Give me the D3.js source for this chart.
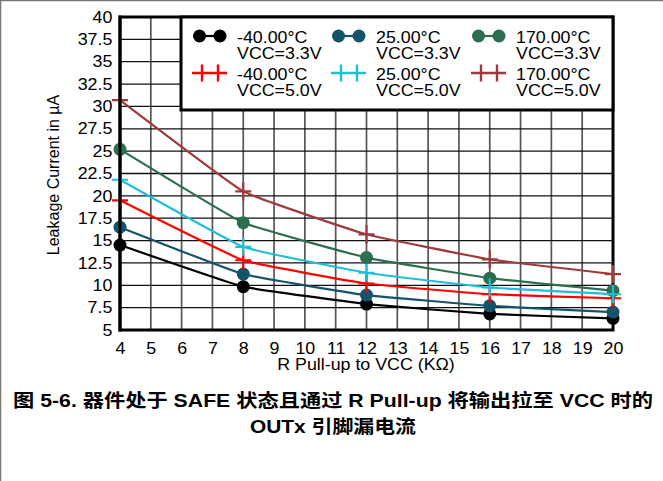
<!DOCTYPE html>
<html><head><meta charset="utf-8">
<script src="https://cdn.jsdelivr.net/npm/d3@7/dist/d3.min.js"></script>
<style>
html,body{margin:0;padding:0;background:#fff;}
svg{display:block;font-family:"Liberation Sans",Arial,sans-serif;}
</style></head>
<body><svg id="c" width="663" height="481"></svg>
<script>
const xValues = [4, 8, 12, 16, 20];
const xTicks = d3.range(4, 21, 1);
const yTicks = [5, 7.5, 10, 12.5, 15, 17.5, 20, 22.5, 25, 27.5, 30, 32.5, 35, 37.5, 40];
const seriesNames = ["-40.00°C|VCC=3.3V", "25.00°C|VCC=3.3V", "170.00°C|VCC=3.3V",
                     "-40.00°C|VCC=5.0V", "25.00°C|VCC=5.0V", "170.00°C|VCC=5.0V"];
const seriesColors = ["#000000", "#13546a", "#2d6e4e", "#ff0000", "#1ec0d8", "#a0393b"];
const seriesMarkers = ["dot", "dot", "dot", "plus", "plus", "plus"];
const sM40_33 = [14.5, 9.85, 7.9, 6.8, 6.3];
const s25_33 = [16.5, 11.25, 8.9, 7.7, 7.0];
const s170_33 = [25.2, 17.0, 13.1, 10.8, 9.4];
const sM40_50 = [19.5, 12.8, 10.2, 9.0, 8.55];
const s25_50 = [21.8, 14.3, 11.4, 9.75, 9.0];
const s170_50 = [30.7, 20.5, 15.7, 12.9, 11.25];
const seriesValues = [sM40_33, s25_33, s170_33, sM40_50, s25_50, s170_50];
const xTitle = "R Pull-up to VCC (KΩ)";
const yTitle = "Leakage Current in µA";
const caption1 = "图 5-6. 器件处于 SAFE 状态且通过 R Pull-up 将输出拉至 VCC 时的";
const caption2 = "OUTx 引脚漏电流";

const FS = 16.2, SX = 1.1;
const svg = d3.select("#c");
const L = 120, R = 613, T = 17, B = 330;
const x = d3.scaleLinear().domain([4, 20]).range([L, R]);
const y = d3.scaleLinear().domain([5, 40]).range([B, T]);

// outer frame
svg.append("line").attr("x1",0.5).attr("x2",0.5).attr("y1",0).attr("y2",481).attr("stroke","#777").attr("stroke-width",1.5);
svg.append("line").attr("x1",0).attr("x2",663).attr("y1",0.5).attr("y2",0.5).attr("stroke","#777").attr("stroke-width",1.5);

// grid
const g = svg.append("g");
g.selectAll("line.v").data(xTicks).join("line")
  .attr("x1", d=>x(d)).attr("x2", d=>x(d)).attr("y1", T).attr("y2", B)
  .attr("stroke", "#555").attr("stroke-width", 1.7);
g.selectAll("line.h").data(yTicks).join("line")
  .attr("x1", L).attr("x2", R).attr("y1", d=>y(d)).attr("y2", d=>y(d))
  .attr("stroke", "#111").attr("stroke-width", 1.3);

// axes with d3
const xAxis = d3.axisBottom(x).tickValues(xTicks).tickSize(0).tickPadding(12).tickFormat(d3.format("d"));
const yAxis = d3.axisLeft(y).tickValues(yTicks).tickSize(0).tickPadding(7).tickFormat(d=>String(d));
const gx = svg.append("g").attr("transform",`translate(0,${B})`).call(xAxis);
const gy = svg.append("g").attr("transform",`translate(${L},0)`).call(yAxis);
[gx, gy].forEach(a=>{
  a.select(".domain").remove();
  a.selectAll("text").attr("font-size", FS).attr("fill","#000")
   .attr("font-family","\"Liberation Sans\",Arial,sans-serif")
   .attr("transform", `scale(${SX},1)`);
});

// frame of plot
svg.append("rect").attr("x", L).attr("y", T).attr("width", R-L).attr("height", B-T)
  .attr("fill","none").attr("stroke","#000").attr("stroke-width",3);

// series
const line = d3.line().x((d,i)=>x(xValues[i])).y(d=>y(d)).curve(d3.curveCardinal.tension(0.7));
seriesValues.forEach((vals, k) => {
  const gs = svg.append("g");
  gs.append("path").attr("d", line(vals)).attr("fill","none")
    .attr("stroke", seriesColors[k]).attr("stroke-width", 2.2);
  if (seriesMarkers[k] === "dot") {
    gs.selectAll("circle").data(vals).join("circle")
      .attr("cx",(d,i)=>x(xValues[i])).attr("cy", d=>y(d)).attr("r", 6.5)
      .attr("fill", seriesColors[k]);
  } else {
    gs.selectAll("path.p").data(vals).join("path").attr("class","p")
      .attr("d",(d,i)=>{const cx=x(xValues[i]), cy=y(d); return `M${cx-8},${cy}H${cx+8}M${cx},${cy-9}V${cy+9}`;})
      .attr("stroke", seriesColors[k]).attr("stroke-width", 2.2).attr("fill","none");
  }
});
// redraw left axis line on top to hide vertical arms at x=4
svg.append("line").attr("x1",L).attr("x2",L).attr("y1",T-1.5).attr("y2",B+1.5).attr("stroke","#000").attr("stroke-width",3);

// legend
const lg = svg.append("g");
lg.append("rect").attr("x", 181).attr("y", T).attr("width", R-181).attr("height", 93)
  .attr("fill","#fff").attr("stroke","#000").attr("stroke-width",3);
const colX = [193, 332, 472];
const rowY = [36, 73];
seriesNames.forEach((nm, k) => {
  const cx = colX[k % 3], cy = rowY[Math.floor(k / 3)];
  const c = seriesColors[k];
  if (seriesMarkers[k] === "dot") {
    lg.append("line").attr("x1", cx+5).attr("x2", cx+28).attr("y1", cy).attr("y2", cy).attr("stroke", c).attr("stroke-width", 2.2);
    [cx+6.5, cx+27].forEach(px => lg.append("circle").attr("cx", px).attr("cy", cy).attr("r", 6.5).attr("fill", c));
  } else {
    lg.append("line").attr("x1", cx-1).attr("x2", cx+34).attr("y1", cy).attr("y2", cy).attr("stroke", c).attr("stroke-width", 2.4);
    [cx+9, cx+25].forEach(px => lg.append("line").attr("x1", px).attr("x2", px).attr("y1", cy-8.5).attr("y2", cy+8.5).attr("stroke", c).attr("stroke-width", 2.4));
  }
  const parts = nm.split("|");
  const t = lg.append("text").attr("transform", `translate(${cx+44},${cy+6.5}) scale(${SX},1)`)
    .attr("font-size", FS).attr("fill","#000");
  t.append("tspan").attr("x", 0).attr("y", 0).text(parts[0]);
  t.append("tspan").attr("x", 0).attr("dy", 16.3).text(parts[1]);
});

// titles
svg.append("text").attr("transform", `translate(366,370) scale(${SX},1)`).attr("text-anchor","middle")
  .attr("font-size", FS).text(xTitle);
svg.append("text").attr("transform", `translate(59,175) rotate(-90)`).attr("text-anchor","middle")
  .attr("font-size", 16).text(yTitle);

// caption
const cap = svg.append("g").attr("font-family","\"Liberation Sans\",\"Noto Sans CJK SC\",Arial,sans-serif")
  .attr("font-weight","bold").attr("font-size", 18.5).attr("text-anchor","middle");
cap.append("text").attr("x", 333).attr("y", 407).attr("textLength", 640).attr("lengthAdjust","spacingAndGlyphs").text(caption1);
cap.append("text").attr("x", 333).attr("y", 433).attr("textLength", 166).attr("lengthAdjust","spacingAndGlyphs").text(caption2);
</script></body></html>
